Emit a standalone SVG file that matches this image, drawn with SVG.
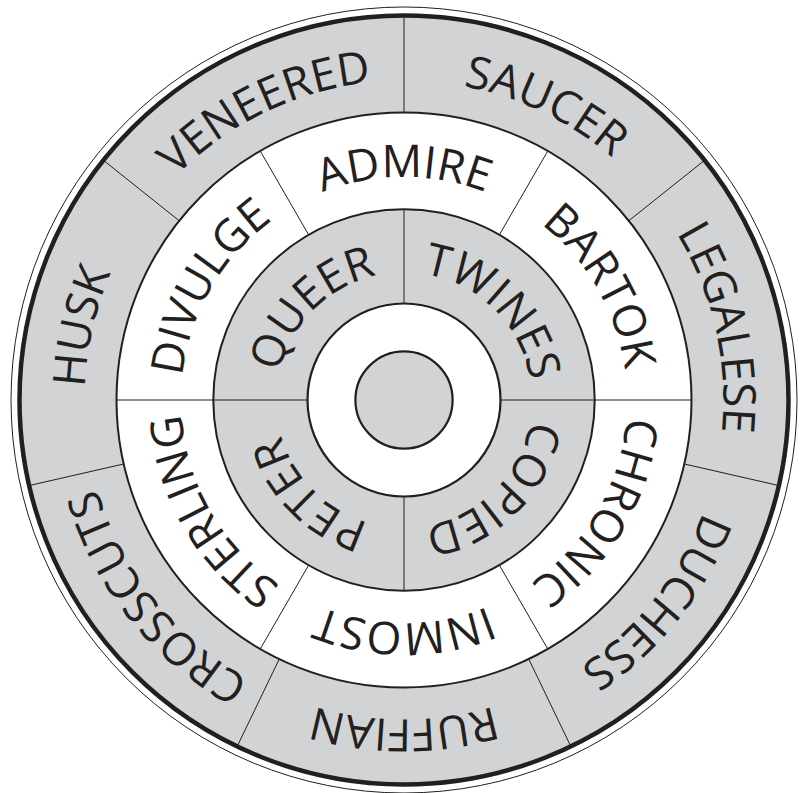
<svg xmlns="http://www.w3.org/2000/svg" width="804" height="793" viewBox="0 0 804 793">
  <style>
    .gray { fill: #d1d3d4; stroke: #231f20; }
    .white { fill: #ffffff; stroke: #231f20; }
    .div { stroke: #231f20; stroke-width: 1; fill: none; }
    .word { font-family: "Open Sans", "Liberation Sans", sans-serif; font-size: 45px; fill: #231f20; text-anchor: middle; }
  </style>
  <defs>
    <path id="pOuter" d="M404,80.6 A319.4,319.4 0 1 1 404,719.4 A319.4,319.4 0 1 1 404,80.6 A319.4,319.4 0 1 1 404,719.4 A319.4,319.4 0 1 1 404,80.6"/>
    <path id="pMiddle" d="M404,177.1 A222.9,222.9 0 1 1 404,622.9 A222.9,222.9 0 1 1 404,177.1 A222.9,222.9 0 1 1 404,622.9 A222.9,222.9 0 1 1 404,177.1"/>
    <path id="pInner" d="M404,272.4 A127.6,127.6 0 1 1 404,527.6 A127.6,127.6 0 1 1 404,272.4 A127.6,127.6 0 1 1 404,527.6 A127.6,127.6 0 1 1 404,272.4"/>
  </defs>

  <g id="rings">
    <circle cx="404" cy="400" r="393" class="white" stroke-width="1"/>
    <circle cx="404" cy="400" r="384.5" class="gray" stroke-width="4.5"/>
    <circle cx="404" cy="400" r="287.5" class="white" stroke-width="2"/>
    <circle cx="404" cy="400" r="190.7" class="gray" stroke-width="2"/>
    <circle cx="404" cy="400" r="96.5" class="white" stroke-width="2.2"/>
    <circle id="hub" cx="404" cy="400" r="48.6" class="gray" stroke-width="2.2"/>
  </g>

  <g id="connectors">
    <line class="div" x1="404" y1="112.5" x2="404" y2="16"/>
    <line class="div" x1="628.78" y1="220.75" x2="704.22" y2="160.58"/>
    <line class="div" x1="684.29" y1="463.97" x2="778.37" y2="485.45"/>
    <line class="div" x1="528.74" y1="659.03" x2="570.61" y2="745.97"/>
    <line class="div" x1="279.26" y1="659.03" x2="237.39" y2="745.97"/>
    <line class="div" x1="123.71" y1="463.97" x2="29.63" y2="485.45"/>
    <line class="div" x1="179.22" y1="220.75" x2="103.78" y2="160.58"/>
    <line class="div" x1="594.7" y1="400" x2="691.5" y2="400"/>
    <line class="div" x1="499.35" y1="234.85" x2="547.75" y2="151.02"/>
    <line class="div" x1="308.65" y1="234.85" x2="260.25" y2="151.02"/>
    <line class="div" x1="213.3" y1="400" x2="116.5" y2="400"/>
    <line class="div" x1="308.65" y1="565.15" x2="260.25" y2="648.98"/>
    <line class="div" x1="499.35" y1="565.15" x2="547.75" y2="648.98"/>
    <line class="div" x1="500.5" y1="400" x2="594.7" y2="400"/>
    <line class="div" x1="404" y1="303.5" x2="404" y2="209.3"/>
    <line class="div" x1="307.5" y1="400" x2="213.3" y2="400"/>
    <line class="div" x1="404" y1="496.5" x2="404" y2="590.7"/>
  </g>

  <g id="veneered"><text class="word"><textPath href="#pOuter" startOffset="46.429%">VENEERED</textPath></text></g>
  <g id="saucer"><text class="word"><textPath href="#pOuter" startOffset="53.571%">SAUCER</textPath></text></g>
  <g id="legalese"><text class="word"><textPath href="#pOuter" startOffset="60.714%">LEGALESE</textPath></text></g>
  <g id="duchess"><text class="word"><textPath href="#pOuter" startOffset="67.857%">DUCHESS</textPath></text></g>
  <g id="ruffian"><text class="word"><textPath href="#pOuter" startOffset="25%">RUFFIAN</textPath></text></g>
  <g id="crosscuts"><text class="word"><textPath href="#pOuter" startOffset="32.143%">CROSSCUTS</textPath></text></g>
  <g id="husk"><text class="word"><textPath href="#pOuter" startOffset="39.286%">HUSK</textPath></text></g>

  <g id="admire"><text class="word"><textPath href="#pMiddle" startOffset="50%">ADMIRE</textPath></text></g>
  <g id="bartok"><text class="word"><textPath href="#pMiddle" startOffset="58.333%">BARTOK</textPath></text></g>
  <g id="chronic"><text class="word"><textPath href="#pMiddle" startOffset="66.667%">CHRONIC</textPath></text></g>
  <g id="inmost"><text class="word"><textPath href="#pMiddle" startOffset="25%">INMOST</textPath></text></g>
  <g id="sterling"><text class="word"><textPath href="#pMiddle" startOffset="33.333%">STERLING</textPath></text></g>
  <g id="divulge"><text class="word"><textPath href="#pMiddle" startOffset="41.667%">DIVULGE</textPath></text></g>

  <g id="queer"><text class="word"><textPath href="#pInner" startOffset="43.75%">QUEER</textPath></text></g>
  <g id="twines"><text class="word"><textPath href="#pInner" startOffset="56.25%">TWINES</textPath></text></g>
  <g id="copied"><text class="word"><textPath href="#pInner" startOffset="68.75%">COPIED</textPath></text></g>
  <g id="peter"><text class="word"><textPath href="#pInner" startOffset="31.25%">PETER</textPath></text></g>
</svg>
